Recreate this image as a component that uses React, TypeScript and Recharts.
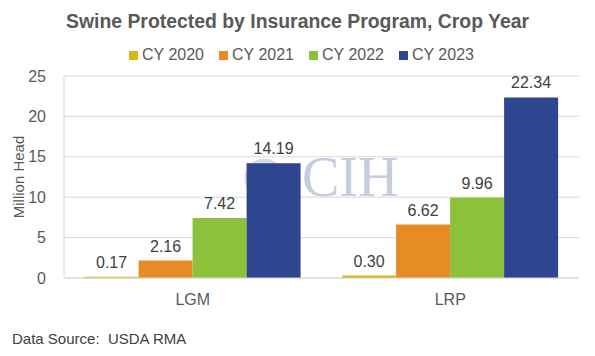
import { BarChart, Bar, XAxis, YAxis, CartesianGrid, LabelList } from "recharts";

const programs = ["LGM", "LRP"];
const cy2020 = [0.17, 0.3];
const cy2021 = [2.16, 6.62];
const cy2022 = [7.42, 9.96];
const cy2023 = [14.19, 22.34];
const yTicks = [0, 5, 10, 15, 20, 25];

const data = programs.map((p, i) => ({
  program: p,
  cy2020: cy2020[i],
  cy2021: cy2021[i],
  cy2022: cy2022[i],
  cy2023: cy2023[i],
}));

const series = [
  { key: "cy2020", name: "CY 2020", color: "#D4B816" },
  { key: "cy2021", name: "CY 2021", color: "#E68C24" },
  { key: "cy2022", name: "CY 2022", color: "#8DC03B" },
  { key: "cy2023", name: "CY 2023", color: "#2E4590" },
];

const font = "'Liberation Sans', Arial, sans-serif";

export default function App() {
  return (
    <div
      style={{
        position: "relative",
        width: 593,
        height: 354,
        border: "1px solid #d9d9d9",
        background: "#fff",
        fontFamily: font,
        margin: -8,
      }}
    >
      {/* title */}
      <div
        style={{
          position: "absolute",
          top: 9,
          left: 0,
          width: "100%",
          textAlign: "center",
          fontSize: 19.4,
          fontWeight: "bold",
          color: "#595959",
        }}
      >
        Swine Protected by Insurance Program, Crop Year
      </div>

      {/* legend */}
      <div
        style={{
          position: "absolute",
          top: 45,
          left: 0,
          width: "100%",
          display: "flex",
          justifyContent: "center",
          gap: 15,
          fontSize: 16,
          color: "#595959",
          paddingLeft: 8,
          boxSizing: "border-box",
        }}
      >
        {series.map((s) => (
          <span key={s.key} style={{ display: "flex", alignItems: "center" }}>
            <span style={{ width: 9, height: 9, background: s.color, marginRight: 4, display: "inline-block" }} />
            {s.name}
          </span>
        ))}
      </div>

      {/* watermark */}
      <svg style={{ position: "absolute", left: 0, top: 0 }} width={593} height={354}>
        <circle cx={263} cy={177} r={17} fill="none" stroke="#d5dae8" strokeWidth={5} />
        <text x={301} y={195} fontFamily="'Liberation Serif', serif" fontSize={56} fill="#c6cde0">
          CIH
        </text>
      </svg>

      <BarChart
        width={593}
        height={354}
        data={data}
        margin={{ top: 75, right: 15, bottom: 47, left: 7 }}
        barCategoryGap="8%"
        barGap={0}
        style={{ position: "absolute", left: 0, top: 0 }}
      >
        <CartesianGrid vertical={false} stroke="#d9d9d9" />
        <XAxis
          dataKey="program"
          height={30}
          axisLine={{ stroke: "#d9d9d9" }}
          tickLine={false}
          tick={{ fill: "#595959", fontSize: 16, fontFamily: font }}
          tickMargin={10}
        />
        <YAxis
          domain={[0, 25]}
          ticks={yTicks}
          axisLine={{ stroke: "#d9d9d9" }}
          tickLine={false}
          width={56}
          tick={{ fill: "#595959", fontSize: 16, fontFamily: font }}
          tickMargin={12}
          label={{
            value: "Million Head",
            angle: -90,
            position: "insideLeft",
            offset: 11,
            style: { textAnchor: "middle", fill: "#595959", fontSize: 15, fontFamily: font },
          }}
        />
        {series.map((s) => (
          <Bar key={s.key} dataKey={s.key} name={s.name} fill={s.color} isAnimationActive={false}>
            <LabelList
              dataKey={s.key}
              position="top"
              offset={9}
              formatter={(v: number) => v.toFixed(2)}
              style={{ fill: "#404040", fontSize: 16, fontFamily: font }}
            />
          </Bar>
        ))}
      </BarChart>

      <div style={{ position: "absolute", left: 11, top: 329, fontSize: 15, color: "#404040" }}>
        Data Source:&nbsp; USDA RMA
      </div>
    </div>
  );
}
